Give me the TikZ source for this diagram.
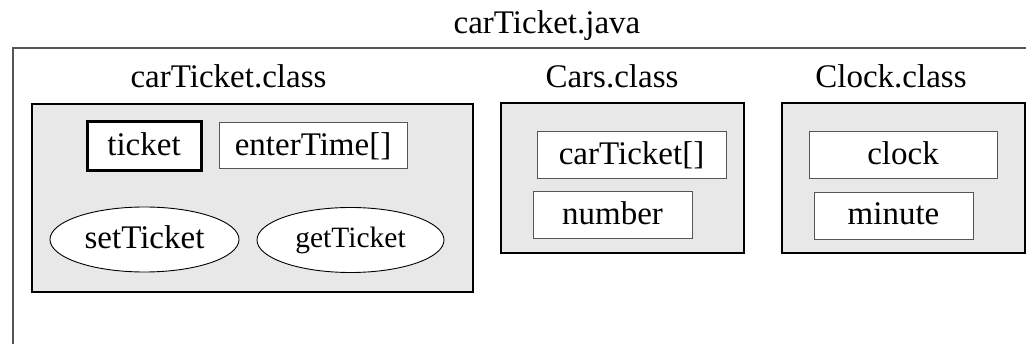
\documentclass[tikz,border=0pt]{standalone}
\usepackage{fontspec}
\setmainfont{Liberation Serif}
\usetikzlibrary{shapes.geometric}
\definecolor{boxfill}{HTML}{E8E8E8}
\definecolor{thingray}{HTML}{555555}
\tikzset{
  lbl/.style={anchor=base, inner sep=0pt, font=\fontsize{33}{36}\selectfont},
  classbox/.style={draw=black, line width=2pt, fill=boxfill, rectangle, inner sep=0pt},
  field/.style={draw=thingray, line width=1pt, fill=white, rectangle, inner sep=0pt,
    font=\fontsize{33}{36}\selectfont, text height=24.75pt, text depth=6.6pt},
  keyfield/.style={field, draw=black, line width=3pt},
  method/.style={draw=black, line width=0.9pt, fill=white, ellipse, inner sep=0pt,
    font=\fontsize{33}{36}\selectfont, text height=24.75pt, text depth=6.6pt}
}
\begin{document}
\begin{tikzpicture}[x=1pt, y=-1pt]
\useasboundingbox (0,0) rectangle (1026,344);
% outer frame (file)
\coordinate (frTR) at (1026,48);
\coordinate (frTL) at (13,48);
\coordinate (frBL) at (13,344);
\draw[thingray, line width=1.3pt] (frTR) -- (frTL) -- (frBL);
\node[lbl] (java) at (547,33.5) {carTicket.java};

% carTicket.class
\node[lbl] (ctlab) at (228.5,88) {carTicket.class};
\node[classbox, minimum width=441pt, minimum height=187.5pt] (ctbox) at (252.2,197.8) {};
\node[keyfield, minimum width=114pt, minimum height=49pt] (ticket) at (144,146.5) {ticket};
\node[field, minimum width=188pt, minimum height=46pt] (enter) at (313,146) {enterTime[]};
\node[method, minimum width=189pt, minimum height=65pt] (setT) at (144.5,239.5) {setTicket};
\node[method, minimum width=187pt, minimum height=65pt, font=\fontsize{29.5}{32}\selectfont, text height=22pt, text depth=6pt] (getT) at (350.5,240) {getTicket};

% Cars.class
\node[lbl] (carslab) at (612,88) {Cars.class};
\node[classbox, minimum width=243.5pt, minimum height=150pt] (carsbox) at (622.25,178.5) {};
\node[field, minimum width=189pt, minimum height=47pt] (cta) at (631.5,155.3) {carTicket[]};
\node[field, minimum width=159pt, minimum height=47pt] (num) at (612.5,215.5) {number};

% Clock.class
\node[lbl] (clocklab) at (891,88) {Clock.class};
\node[classbox, minimum width=243pt, minimum height=150pt] (clockbox) at (903,178.5) {};
\node[field, minimum width=188pt, minimum height=47pt] (clk) at (903,155.3) {clock};
\node[field, minimum width=159pt, minimum height=47pt] (min) at (893.5,215.8) {minute};
\end{tikzpicture}
\end{document}
